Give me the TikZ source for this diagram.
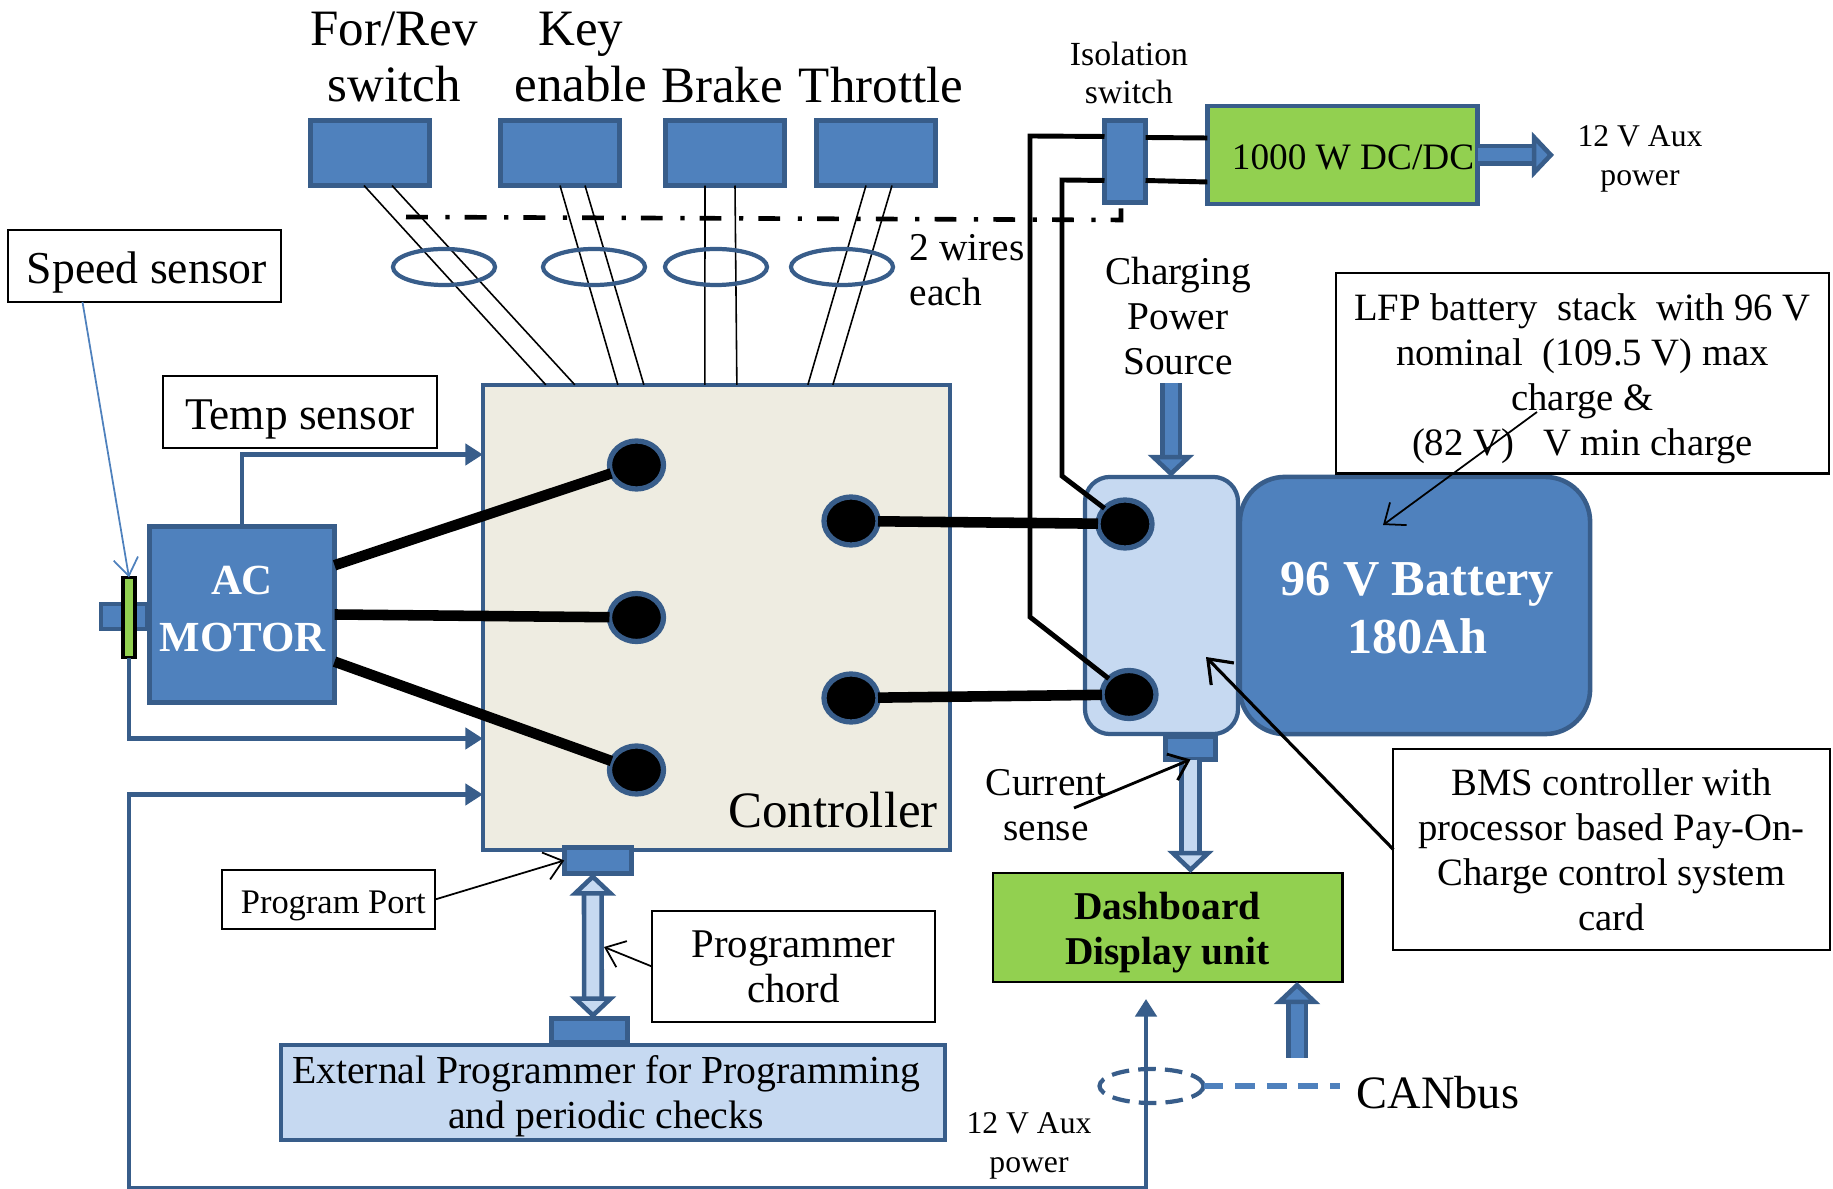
\documentclass[tikz,border=0pt]{standalone}
\usepackage{fontspec}
\usepackage{xcolor}
\usepackage{tikz}
\usetikzlibrary{arrows.meta,shapes.geometric}
\setmainfont{Liberation Serif}

\definecolor{accblue}{HTML}{4F81BD}
\definecolor{accedge}{HTML}{385D8A}
\definecolor{paleblue}{HTML}{C6D9F1}
\definecolor{limefill}{HTML}{92D050}
\definecolor{ctrlfill}{HTML}{EEECE1}

\tikzset{
  bigtxt/.style={font=\fontsize{14.5}{16}\selectfont,align=center,inner sep=0pt},
  midtxt/.style={font=\fontsize{11.2}{12.8}\selectfont,align=center,inner sep=0pt},
  smalltxt/.style={font=\fontsize{9.6}{10.9}\selectfont,align=center,inner sep=0pt},
  auxtxt/.style={font=\fontsize{9}{10.9}\selectfont,align=center,inner sep=0pt},
  bluebox/.style={draw=accedge,fill=accblue,line width=1.3pt,inner sep=0pt,outer sep=0pt},
  notebox/.style={draw=black,fill=white,line width=0.6pt,inner sep=0pt,outer sep=0pt,align=center},
  pinnode/.style={ellipse,draw=accedge,fill=black,line width=1.5pt,minimum width=0.54cm,minimum height=0.48cm,inner sep=0pt,outer sep=0pt},
  ringnode/.style={ellipse,draw=accedge,line width=1.2pt,minimum width=1.02cm,minimum height=0.36cm,inner sep=0pt,outer sep=0pt},
  powerline/.style={line width=3pt,draw=black},
  batline/.style={line width=1.4pt,draw=black},
  thinwire/.style={line width=0.45pt,draw=black},
  sigline/.style={line width=1.3pt,draw=accedge,-{Triangle[length=5pt,width=6pt]}},
  calloutline/.style={line width=0.5pt,draw=black,-{Straight Barb[length=5pt,width=8pt]}},
  blockarrow/.style={draw=accedge,line width=1.3pt,double=#1,double distance=3.7pt,-{Triangle[length=6.3pt,width=13pt,fill=#1,line width=1.3pt]}},
  blockboth/.style={blockarrow=#1,{Triangle[length=6.3pt,width=13pt,fill=#1,line width=1.3pt]}-{Triangle[length=6.3pt,width=13pt,fill=#1,line width=1.3pt]}},
}

\begin{document}
\begin{tikzpicture}[x=0.01cm,y=-0.01cm]
    \useasboundingbox (0,0) rectangle (1833,1189);

    % Switches on top
    \node[bluebox,minimum width=1.19cm,minimum height=0.65cm] (forbox) at (370,153) {};
    \node[bluebox,minimum width=1.19cm,minimum height=0.65cm] (keybox) at (560,153) {};
    \node[bluebox,minimum width=1.19cm,minimum height=0.65cm] (brakebox) at (725,153) {};
    \node[bluebox,minimum width=1.19cm,minimum height=0.65cm] (throtbox) at (876,153) {};
    \node[bigtxt] (fortxt) at (394,57) {For/Rev\\switch};
    \node[bigtxt] (keytxt) at (581,57) {Key\\enable};
    \node[bigtxt] (braketxt) at (722,85) {Brake};
    \node[bigtxt] (throttxt) at (881,85) {Throttle};

    % Controller
    \node[draw=accedge,fill=ctrlfill,line width=1.3pt,minimum width=4.67cm,minimum height=4.65cm,inner sep=0pt,outer sep=0pt] (ctrl) at (716.5,617.5) {};
    \node[bigtxt] (ctrltxt) at (833,810) {Controller};
    \node[pinnode] (pinA) at (636.5,465) {};
    \node[pinnode] (pinB) at (636.5,617.5) {};
    \node[pinnode] (pinC) at (636.5,770) {};
    \node[pinnode] (pinP) at (851,521) {};
    \node[pinnode] (pinN) at (851,698) {};

    % Wires into the controller
    \draw[thinwire] ([shift={(-6,0)}]forbox.south) -- ([shift={(63,0)}]ctrl.north west);
    \draw[thinwire] ([shift={(22,0)}]forbox.south) -- ([shift={(92,0)}]ctrl.north west);
    \draw[thinwire] ([shift={(0,0)}]keybox.south) -- ([shift={(135,0)}]ctrl.north west);
    \draw[thinwire] ([shift={(25,0)}]keybox.south) -- ([shift={(161,0)}]ctrl.north west);
    \draw[thinwire] ([shift={(-20,0)}]brakebox.south) -- ([shift={(222,0)}]ctrl.north west);
    \draw[thinwire] ([shift={(10,0)}]brakebox.south) -- ([shift={(254,0)}]ctrl.north west);
    \draw[thinwire] ([shift={(-10,0)}]throtbox.south) -- ([shift={(325,0)}]ctrl.north west);
    \draw[thinwire] ([shift={(16,0)}]throtbox.south) -- ([shift={(350,0)}]ctrl.north west);
    \node[ringnode] (ringA) at (444,267) {};
    \node[ringnode] (ringB) at (594,267) {};
    \node[ringnode] (ringC) at (716,267) {};
    \node[ringnode] (ringD) at (842,267) {};
    \node[midtxt,anchor=west,align=left] (wirestxt) at (909,270) {2 wires\\each};

    % Motor
    \node[bluebox,minimum width=0.46cm,minimum height=0.25cm] (shaft) at (124,616.5) {};
    \node[bluebox,minimum width=1.85cm,minimum height=1.76cm,text=white,font=\fontsize{12.2}{16.2}\selectfont\bfseries,align=center] (motor) at (242,614.5) {AC\\\hspace*{0.5pt}MOTOR\rule[-3.3pt]{0pt}{0pt}};
    \node[draw=black,fill=limefill,line width=1pt,minimum width=0.12cm,minimum height=0.8cm,inner sep=0pt,outer sep=0pt] (strip) at (129,617.5) {};
    \draw[powerline] (motor.28) -- (pinA);
    \draw[powerline] (motor.east) -- (pinB);
    \draw[powerline] (motor.333) -- (pinC);

    \node[notebox,font=\fontsize{13}{15}\selectfont,minimum width=2.73cm,minimum height=0.72cm,text height=11.2pt,text depth=1.2pt] (spdbox) at (144.5,266) {\hspace*{1.4pt}Speed sensor};
    \node[notebox,font=\fontsize{12.9}{15}\selectfont,minimum width=2.74cm,minimum height=0.72cm,text height=11pt,text depth=1.2pt] (tempbox) at (300,412) {Temp sensor};
    \draw[line width=0.5pt,draw=accblue,-{Straight Barb[length=5pt,width=7pt]}] ([shift={(-62,0)}]spdbox.south) -- (strip.north);
    \draw[sigline] (motor.north) |- ([shift={(0,-163)}]ctrl.west);
    \draw[sigline] (strip.south) |- ([shift={(0,121)}]ctrl.west);

    % Battery pack
    \node[draw=accedge,fill=accblue,line width=1.3pt,rounded corners=0.45cm,minimum width=3.5cm,minimum height=2.57cm,inner sep=0pt,outer sep=0pt,text=white,font=\fontsize{14.3}{16.3}\selectfont\bfseries,align=center] (batt) at (1415,605.5) {\rule{0pt}{10.9pt}\hspace*{1.2pt}96 V Battery\\\hspace*{1.2pt}180Ah};
    \node[draw=accedge,fill=paleblue,line width=1.2pt,rounded corners=0.25cm,minimum width=1.53cm,minimum height=2.57cm,inner sep=0pt,outer sep=0pt] (bms) at (1161.5,605.5) {};
    \node[bluebox,minimum width=0.5cm,minimum height=0.23cm] (senseport) at (1190.5,748) {};
    \node[pinnode] (pinX) at (1125,524) {};
    \node[pinnode] (pinY) at (1129,694.5) {};
    \draw[powerline] (pinP) -- (pinX);
    \draw[powerline] (pinN) -- (pinY);

    % Isolation switch and DC/DC
    \node[bluebox,minimum width=0.41cm,minimum height=0.82cm] (isosw) at (1125,161.5) {};
    \node[draw=accedge,fill=limefill,line width=1.3pt,minimum width=2.7cm,minimum height=0.98cm,inner sep=0pt,outer sep=0pt] (dcdc) at (1342.5,155) {};
    \node[midtxt,font=\fontsize{10.6}{12.8}\selectfont] (dcdctxt) at (1353,157) {1000 W DC/DC};
    \node[smalltxt] (isotxt) at (1129,73) {Isolation\\switch};
    \node[auxtxt] (auxtxtA) at (1640,159) {12 V Aux\\power};
    \draw[batline] ([shift={(0,-25)}]isosw.west) -- (1030,136) -- (1030,617) -- (pinY);
    \draw[batline] ([shift={(0,19)}]isosw.west) -- (1062,180) -- (1062,476) -- (pinX);
    \draw[batline] ([shift={(0,-24)}]isosw.east) -- ([shift={(0,-17)}]dcdc.west);
    \draw[batline] ([shift={(0,19)}]isosw.east) -- ([shift={(0,27)}]dcdc.west);
    \coordinate (dashstart) at (406,217);
    \draw[line width=1.3pt,dash pattern=on 6.2pt off 5pt on 1.2pt off 4.3pt] (dashstart) -- (1121,220) -- ([shift={(-4,0)}]isosw.south);
    \coordinate (dctip) at (1554,155);
    \draw[blockarrow=accblue] (dcdc.east) -- (dctip);

    % Charging source
    \node[midtxt] (chargetxt) at (1178,316) {Charging\\Power\\Source};
    \coordinate (chargetop) at (1171,383);
    \draw[blockarrow=accblue] (chargetop) -- (chargetop |- bms.north);

    % Notes on the right
    \node[notebox,midtxt,font=\fontsize{11}{12.8}\selectfont,minimum width=4.93cm,minimum height=2cm] (lfpbox) at (1582.5,373.5) {\rule{0pt}{10.6pt}LFP battery\ \ stack\ \ with 96 V\\nominal\ \ (109.5 V) max\\charge \&\\(82 V)\ \ \ V min charge};
    \coordinate (lfptail) at (1537,412);
    \coordinate (lfptip) at (1383,525);
    \draw[calloutline] (lfptail) -- (lfptip);
    \node[notebox,midtxt,font=\fontsize{11}{12.8}\selectfont,minimum width=4.36cm,minimum height=2.01cm] (bmsbox) at (1611.5,849.5) {BMS controller with\\processor based Pay-On-\\Charge control system\\card};
    \coordinate (bmstip) at (1206,657);
    \draw[line width=0.9pt,draw=black,-{Straight Barb[length=6pt,width=9pt]}] (bmsbox.west) -- (bmstip);

    % Dashboard
    \node[draw=black,fill=limefill,line width=0.8pt,minimum width=3.49cm,minimum height=1.09cm,inner sep=0pt,outer sep=0pt,font=\fontsize{11.2}{12.8}\selectfont\bfseries,align=center] (dash) at (1167.5,927.5) {\rule{0pt}{10.4pt}Dashboard\\Display unit};
    \draw[blockarrow=paleblue] (senseport.south) -- (senseport.south |- dash.north);
    \coordinate (bustail) at (1297,1058);
    \draw[blockarrow=accblue] (bustail) -- (bustail |- dash.south);
    \node[midtxt] (sensetxt) at (1046,805) {Current\\sense};
    \coordinate (sensetail) at (1074,808);
    \draw[line width=0.8pt,draw=black,-{Straight Barb[length=5pt,width=8pt]}] (sensetail) -- (senseport.south);

    % CANbus and aux feed
    \coordinate (auxtip) at (1146,999);
    \draw[sigline,{Triangle[length=5pt,width=6pt]}-{Triangle[length=5pt,width=6pt]}] ([shift={(0,177)}]ctrl.west) -| (129,1188) -| (auxtip);
    \node[ringnode,dash pattern=on 5pt off 2.6pt,minimum width=1.04cm,minimum height=0.34cm] (canring) at (1151.5,1086) {};
    \node[bigtxt,font=\fontsize{13.2}{16}\selectfont,anchor=west] (cantxt) at (1356,1093) {CANbus};
    \draw[line width=1.7pt,draw=accblue,dash pattern=on 5.6pt off 3.4pt] (canring.east) -- ++(136,0);
    \node[auxtxt] (auxtxtB) at (1029,1146) {12 V Aux\\power};

    % Programmer
    \node[bluebox,minimum width=0.67cm,minimum height=0.26cm] (progport) at (597.75,860.5) {};
    \node[bluebox,minimum width=0.76cm,minimum height=0.24cm] (extport) at (589.5,1030.5) {};
    \node[draw=accedge,fill=paleblue,line width=1.3pt,minimum width=6.64cm,minimum height=0.95cm,inner sep=0pt,outer sep=0pt] (extbox) at (613,1092.5) {};
    \node[midtxt,font=\fontsize{11.3}{12.8}\selectfont] (exttxt) at (606,1096) {External Programmer for Programming\\and periodic checks};
    \draw[blockboth=paleblue] ([shift={(-5,0)}]progport.south) -- ([shift={(3.5,0)}]extport.north);
    \node[notebox,font=\fontsize{9.8}{10.9}\selectfont,minimum width=2.13cm,minimum height=0.59cm,text height=9pt,text depth=1.2pt] (portbox) at (328.5,899.5) {\hspace*{2.7pt}Program Port};
    \node[notebox,midtxt,font=\fontsize{11.6}{12.8}\selectfont,minimum width=2.83cm,minimum height=1.11cm] (chordbox) at (793.5,966.5) {Programmer\\chord};
    \draw[calloutline] (portbox.east) -- (progport.west);
    \coordinate (chordtip) at (604,947);
    \draw[calloutline] (chordbox.west) -- (chordtip);
  \end{tikzpicture}
\end{document}
